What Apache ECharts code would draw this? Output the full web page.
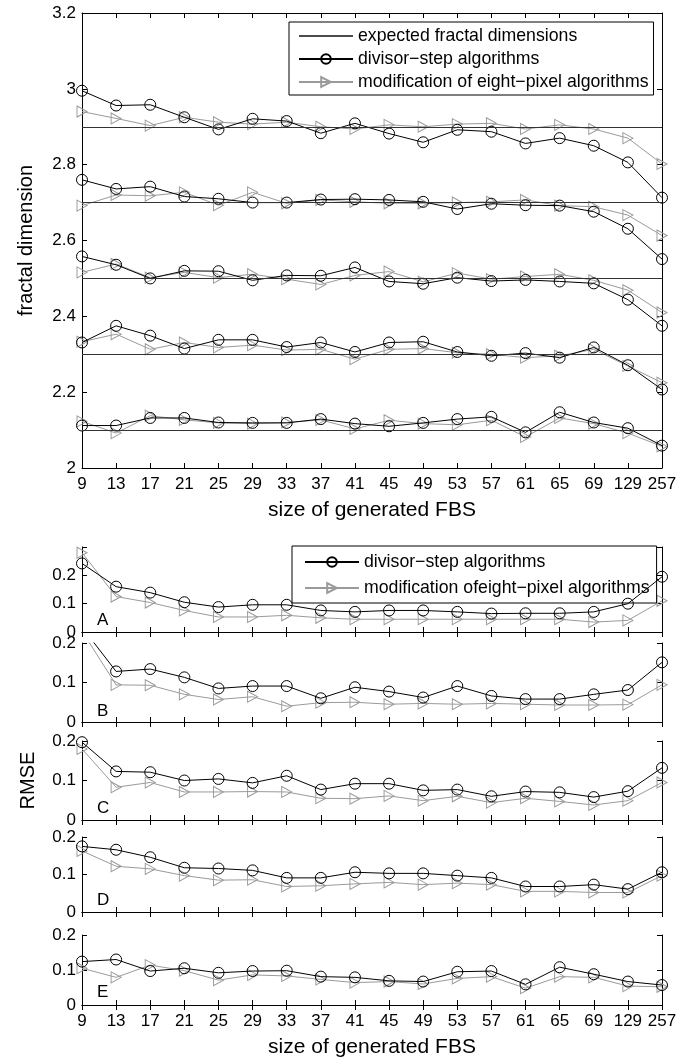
<!DOCTYPE html>
<html><head><meta charset="utf-8">
<script src="https://cdn.jsdelivr.net/npm/echarts@6/dist/echarts.min.js"></script>
<style>html,body{margin:0;padding:0;background:#fff}#c{width:691px;height:1060px}</style>
</head><body><div id="c"></div>
<script>
// ---------- data ----------
const sizes = ['9','13','17','21','25','29','33','37','41','45','49','53','57','61','65','69','129','257'];
const expectedDims = [2.1, 2.3, 2.5, 2.7, 2.9];

// fractal dimension, divisor-step algorithms
const fdDiv29 = [2.995,2.956,2.958,2.925,2.893,2.921,2.915,2.883,2.909,2.882,2.859,2.892,2.887,2.856,2.870,2.850,2.806,2.713];
const fdDiv27 = [2.760,2.736,2.742,2.716,2.710,2.700,2.700,2.708,2.709,2.707,2.702,2.683,2.697,2.693,2.692,2.676,2.631,2.551];
const fdDiv25 = [2.558,2.536,2.500,2.520,2.519,2.495,2.508,2.507,2.529,2.492,2.486,2.502,2.493,2.496,2.492,2.487,2.444,2.375];
const fdDiv23 = [2.331,2.375,2.349,2.315,2.338,2.338,2.319,2.331,2.306,2.331,2.333,2.306,2.296,2.303,2.291,2.318,2.271,2.207];
const fdDiv21 = [2.112,2.112,2.132,2.132,2.120,2.119,2.119,2.129,2.117,2.110,2.119,2.129,2.135,2.094,2.147,2.120,2.105,2.059];
// fractal dimension, modification of eight-pixel algorithms
const fdMod29 = [2.940,2.922,2.903,2.925,2.912,2.907,2.912,2.900,2.894,2.905,2.900,2.907,2.909,2.894,2.905,2.894,2.870,2.802];
const fdMod27 = [2.692,2.720,2.718,2.727,2.693,2.727,2.698,2.707,2.702,2.698,2.698,2.700,2.702,2.707,2.692,2.689,2.667,2.613];
const fdMod25 = [2.516,2.538,2.502,2.516,2.502,2.511,2.498,2.484,2.508,2.518,2.491,2.514,2.498,2.505,2.511,2.495,2.469,2.410];
const fdMod23 = [2.333,2.353,2.313,2.331,2.318,2.324,2.311,2.313,2.287,2.313,2.315,2.304,2.300,2.291,2.296,2.313,2.269,2.225];
const fdMod21 = [2.123,2.092,2.138,2.127,2.119,2.117,2.120,2.127,2.103,2.126,2.117,2.114,2.126,2.082,2.132,2.117,2.092,2.057];

// RMSE panels A-E
const rmseDivA = [0.242,0.160,0.139,0.105,0.088,0.096,0.096,0.076,0.071,0.076,0.076,0.071,0.065,0.066,0.066,0.071,0.100,0.195];
const rmseModA = [0.280,0.125,0.104,0.076,0.053,0.053,0.059,0.050,0.045,0.045,0.045,0.045,0.045,0.045,0.045,0.035,0.041,0.110];
const rmseDivB = [0.240,0.128,0.134,0.113,0.085,0.091,0.091,0.060,0.088,0.077,0.062,0.091,0.066,0.058,0.058,0.070,0.081,0.151];
const rmseModB = [0.230,0.094,0.093,0.070,0.057,0.064,0.040,0.049,0.050,0.045,0.047,0.045,0.047,0.045,0.043,0.043,0.044,0.094];
const rmseDivC = [0.197,0.123,0.121,0.100,0.104,0.094,0.112,0.077,0.092,0.092,0.075,0.077,0.060,0.072,0.070,0.058,0.073,0.132];
const rmseModC = [0.180,0.083,0.095,0.071,0.071,0.072,0.071,0.055,0.054,0.061,0.049,0.060,0.044,0.055,0.047,0.038,0.049,0.095];
const rmseDivD = [0.175,0.166,0.146,0.118,0.116,0.111,0.091,0.091,0.106,0.103,0.103,0.097,0.091,0.068,0.068,0.073,0.061,0.106];
const rmseModD = [0.163,0.122,0.115,0.097,0.085,0.086,0.068,0.070,0.075,0.079,0.073,0.077,0.073,0.055,0.055,0.052,0.052,0.097];
const rmseDivE = [0.124,0.130,0.097,0.105,0.092,0.097,0.098,0.081,0.079,0.069,0.067,0.095,0.097,0.059,0.108,0.088,0.067,0.057];
const rmseModE = [0.105,0.079,0.114,0.098,0.071,0.086,0.083,0.073,0.064,0.067,0.060,0.076,0.081,0.048,0.081,0.079,0.054,0.052];
const panelLetters = ['A','B','C','D','E'];

// ---------- styling / layout ----------
const FONT = '"Liberation Sans", Arial, Helvetica, sans-serif';
const NAME_EXP = 'expected fractal dimensions';
const NAME_DIV = 'divisor\u2212step algorithms';
const NAME_MOD = 'modification of eight\u2212pixel algorithms';
const NAME_MOD2 = 'modification ofeight\u2212pixel algorithms';
const BLACK = '#000';
const GRAY = '#9a9a9a';
const TRI = 'path://M0,0L10,5L0,10Z';
const LINE_ICON = 'path://M0,0L54,0L54,1.3L0,1.3Z';

const grids = [
  {left: 82, right: 29, top: 13, height: 455},
  {left: 82, right: 29, top: 547, height: 85},
  {left: 82, right: 29, top: 643, height: 79},
  {left: 82, right: 29, top: 741, height: 79},
  {left: 82, right: 29, top: 837, height: 75},
  {left: 82, right: 29, top: 935, height: 70}
];
const yRanges = [
  {min: 2, max: 3.2, interval: 0.2},
  {min: 0, max: 0.3, interval: 0.1},
  {min: 0, max: 0.2, interval: 0.1},
  {min: 0, max: 0.2, interval: 0.1},
  {min: 0, max: 0.2, interval: 0.1},
  {min: 0, max: 0.2, interval: 0.1}
];

const axLine = {show: true, lineStyle: {color: BLACK, width: 1}};
const tick = {show: true, inside: true, length: 5, lineStyle: {color: BLACK, width: 1}};
const xAxes = [], yAxes = [];
grids.forEach((g, i) => {
  const showX = (i === 0 || i === 5);
  xAxes.push({
    type: 'category', gridIndex: i, data: sizes, boundaryGap: false, position: 'bottom',
    axisLine: axLine, axisTick: Object.assign({interval: 0}, tick),
    axisLabel: {show: showX, interval: 0, margin: 8, fontSize: 17, color: BLACK, fontFamily: FONT},
    splitLine: {show: false},
    name: showX ? 'size of generated FBS' : '', nameLocation: 'middle', nameGap: 32,
    nameTextStyle: {fontSize: 21, color: BLACK, fontFamily: FONT}
  });
  xAxes.push({
    type: 'category', gridIndex: i, data: sizes, boundaryGap: false, position: 'top',
    axisLine: axLine, axisTick: Object.assign({interval: 0}, tick),
    axisLabel: {show: false}, splitLine: {show: false}
  });
  const r = yRanges[i];
  let yName = '';
  if (i === 0) yName = 'fractal dimension';
  if (i === 3) yName = 'RMSE';
  yAxes.push({
    type: 'value', gridIndex: i, min: r.min, max: r.max, interval: r.interval, position: 'left',
    axisLine: axLine, axisTick: tick, splitLine: {show: false},
    axisLabel: {margin: 6, fontSize: 17, color: BLACK, fontFamily: FONT,
      formatter: v => (i === 1 && v > 0.25) ? '' : String(+v.toFixed(2))},
    name: yName, nameLocation: 'middle', nameGap: i === 0 ? 46 : 44,
    nameTextStyle: {fontSize: 20, color: BLACK, fontFamily: FONT}
  });
  yAxes.push({
    type: 'value', gridIndex: i, min: r.min, max: r.max, interval: r.interval, position: 'right',
    axisLine: axLine, axisTick: tick, splitLine: {show: false}, axisLabel: {show: false}
  });
});

function divSeries(data, axis, name) {
  return {type: 'line', name: name, xAxisIndex: axis * 2, yAxisIndex: axis * 2, data: data,
    symbol: 'circle', symbolSize: 11, showAllSymbol: true, clip: true, z: 4,
    lineStyle: {color: BLACK, width: 1},
    itemStyle: {color: 'rgba(255,255,255,0)', borderColor: BLACK, borderWidth: 1},
    emphasis: {disabled: true}};
}
function modSeries(data, axis, name) {
  return {type: 'line', name: name, xAxisIndex: axis * 2, yAxisIndex: axis * 2, data: data,
    symbol: TRI, symbolSize: [10, 11], showAllSymbol: true, clip: true, z: 3,
    lineStyle: {color: GRAY, width: 1},
    itemStyle: {color: 'rgba(255,255,255,0)', borderColor: GRAY, borderWidth: 1},
    emphasis: {disabled: true}};
}

const series = [];
series.push({
  type: 'line', name: NAME_EXP, xAxisIndex: 0, yAxisIndex: 0, data: [], symbol: 'none',
  lineStyle: {color: '#333', width: 1}, itemStyle: {color: '#111'},
  markLine: {silent: true, symbol: ['none', 'none'], label: {show: false},
    lineStyle: {color: '#333', type: 'solid', width: 1},
    data: expectedDims.map(v => ({yAxis: v}))}
});
[fdDiv21, fdDiv23, fdDiv25, fdDiv27, fdDiv29].forEach(d => series.push(divSeries(d, 0, NAME_DIV)));
[fdMod21, fdMod23, fdMod25, fdMod27, fdMod29].forEach(d => series.push(modSeries(d, 0, NAME_MOD)));
const rmseDiv = [rmseDivA, rmseDivB, rmseDivC, rmseDivD, rmseDivE];
const rmseMod = [rmseModA, rmseModB, rmseModC, rmseModD, rmseModE];
rmseDiv.forEach((d, k) => series.push(divSeries(d, k + 1, NAME_DIV)));
rmseMod.forEach((d, k) => series.push(modSeries(d, k + 1, NAME_MOD2)));

const letterTops = [612, 703, 800, 892, 984];
const graphic = panelLetters.map((t, k) => ({
  type: 'text', left: 97, top: letterTops[k], z: 10,
  style: {text: t, fontSize: 17, fill: BLACK, fontFamily: FONT}
}));

const chart = echarts.init(document.getElementById('c'), null, {renderer: 'canvas'});
chart.setOption({
  animation: false,
  backgroundColor: '#fff',
  grid: grids,
  xAxis: xAxes,
  yAxis: yAxes,
  legend: [
    {data: [{name: NAME_EXP, icon: LINE_ICON, itemStyle: {color: '#111'}}, NAME_DIV, NAME_MOD],
     orient: 'vertical', left: 289, top: 22,
     itemWidth: 54, itemHeight: 12, itemGap: 5, padding: [5, 5, 4, 9],
     borderColor: BLACK, borderWidth: 1, backgroundColor: '#fff', selectedMode: false,
     textStyle: {fontSize: 17.7, color: BLACK, fontFamily: FONT}},
    {data: [NAME_DIV, NAME_MOD2], orient: 'vertical', left: 292, top: 546,
     itemWidth: 54, itemHeight: 12, itemGap: 8, padding: [7, 7, 6, 12],
     borderColor: BLACK, borderWidth: 1, backgroundColor: '#fff', selectedMode: false,
     textStyle: {fontSize: 17.7, color: BLACK, fontFamily: FONT}}
  ],
  graphic: graphic,
  series: series
});
</script></body></html>
